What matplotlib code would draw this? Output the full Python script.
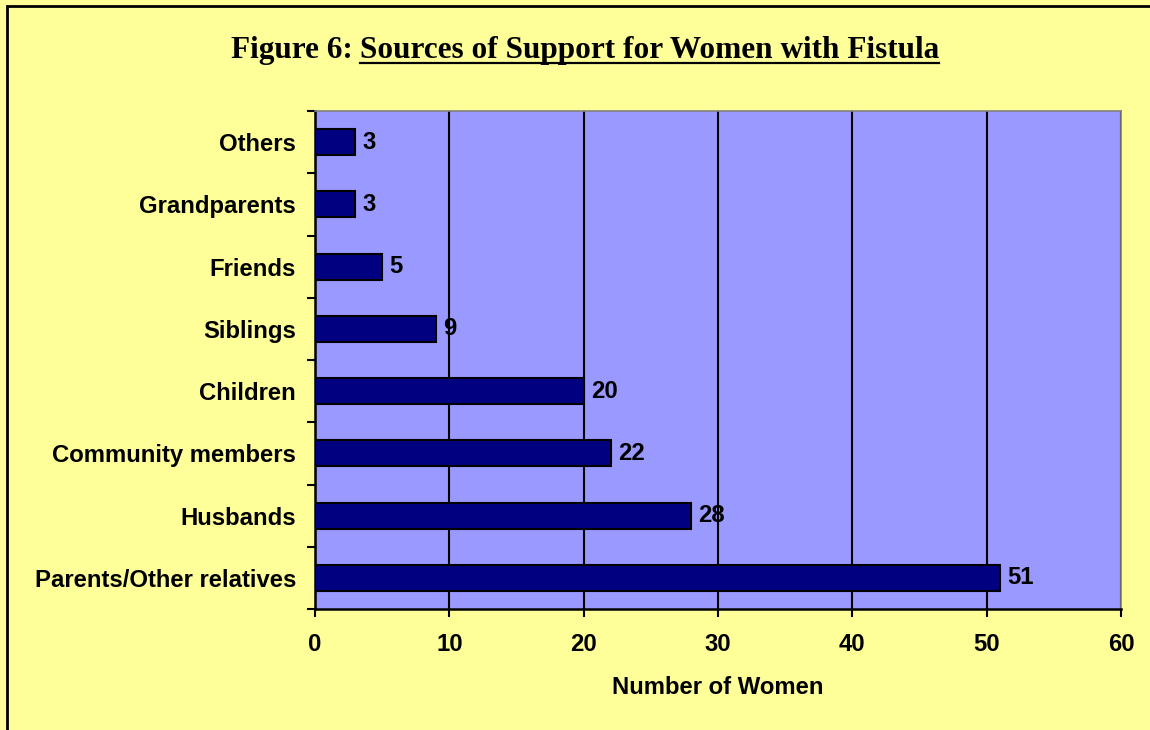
import matplotlib
matplotlib.use("Agg")
import matplotlib.pyplot as plt
from matplotlib.lines import Line2D
from matplotlib.patches import Rectangle

categories = ["Parents/Other relatives", "Husbands", "Community members", "Children",
              "Siblings", "Friends", "Grandparents", "Others"]
values = [51, 28, 22, 20, 9, 5, 3, 3]
xticks = [0, 10, 20, 30, 40, 50, 60]

W, H = 1150, 730
FS = 17.2
fig = plt.figure(figsize=(W / 100, H / 100), dpi=100)
fig.patch.set_facecolor("#FFFF99")

# outer frame (left and top visible)
fig.add_artist(Rectangle((7 / W, -0.1), 1.2, 1 - 6 / H + 0.1, transform=fig.transFigure,
                         fill=False, edgecolor="black", linewidth=2))

L, R, T, B = 315, 1121, 111, 609
ax = fig.add_axes([L / W, 1 - B / H, (R - L) / W, (B - T) / H])
ax.set_facecolor("#9999FF")

y = list(range(len(categories)))
ax.barh(y, values, height=0.42, color="#000080", edgecolor="black", linewidth=1.5, zorder=3)
for yi, v in zip(y, values):
    ax.text(v + 0.55, yi, str(v), va="center", ha="left", fontsize=FS,
            fontweight="bold", family="Liberation Sans", color="black", zorder=4)

ax.set_xlim(0, 60)
ax.set_ylim(-0.5, len(categories) - 0.5)
ax.set_xticks(xticks)
ax.set_xticklabels([str(t) for t in xticks], fontsize=FS, fontweight="bold",
                   family="Liberation Sans")
ax.set_yticks(y)
ax.set_yticklabels(categories, fontsize=FS, fontweight="bold", family="Liberation Sans")
ax.tick_params(axis="y", length=0, pad=13.5)
ax.set_yticks([i - 0.5 for i in range(len(categories) + 1)], minor=True)
ax.tick_params(axis="y", which="minor", length=6, width=1.5, direction="out")
ax.tick_params(axis="x", length=6, width=1.5, direction="out", pad=11)
ax.xaxis.grid(True, color="black", linewidth=1.5, zorder=1)
ax.set_axisbelow(True)
for s in ["left", "bottom"]:
    ax.spines[s].set_linewidth(1.8)
    ax.spines[s].set_color("black")
for s in ["top", "right"]:
    ax.spines[s].set_linewidth(1.2)
    ax.spines[s].set_color("#808080")
ax.set_xlabel("Number of Women", fontsize=FS, fontweight="bold",
              family="Liberation Sans", labelpad=15)

# title
t1 = fig.text(0, 0, "Figure 6: ", fontsize=22.5, fontweight="bold", family="Liberation Serif")
t2 = fig.text(0, 0, "Sources of Support for Women with Fistula", fontsize=22.5,
              fontweight="bold", family="Liberation Serif")
fig.canvas.draw()
r = fig.canvas.get_renderer()
w1 = t1.get_window_extent(r).width
w2 = t2.get_window_extent(r).width
cx = 585
start = cx - (w1 + w2) / 2
ybase = H - 58
t1.set_position((start / W, ybase / H))
t2.set_position(((start + w1) / W, ybase / H))
fig.add_artist(Line2D([(start + w1) / W, (start + w1 + w2) / W],
                      [(ybase - 5) / H, (ybase - 5) / H], transform=fig.transFigure,
                      color="black", linewidth=1.6))

fig.savefig("out.png", dpi=100, facecolor=fig.get_facecolor())
